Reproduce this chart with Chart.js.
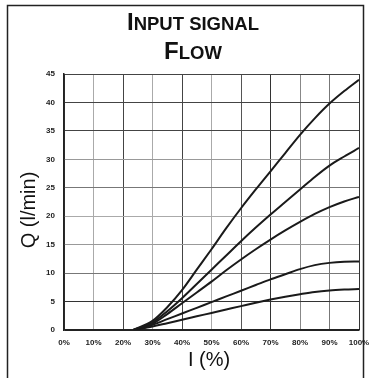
<!DOCTYPE html>
<html>
<head>
<meta charset="utf-8">
<script src="https://cdn.jsdelivr.net/npm/chart.js@4.4.0/dist/chart.umd.min.js"></script>
<style>
html,body{margin:0;padding:0;background:#fff;}
#wrap{position:relative;width:371px;height:378px;}
</style>
</head>
<body>
<div id="wrap"><canvas id="c" width="371" height="378"></canvas></div>
<script>
// ---- data ----
const titleLines = ["Input signal", "Flow"];
const xAxisTitle = "I (%)";
const yAxisTitle = "Q (l/min)";
const xTickLabels = ["0%","10%","20%","30%","40%","50%","60%","70%","80%","90%","100%"];
const yTickLabels = ["0","5","10","15","20","25","30","35","40","45"];
const currentPct = [23.5,30,35,40,45,50,55,60,65,70,75,80,85,90,95,100];
const flowA = [0,1.6,4.0,7.0,10.6,14.2,17.9,21.4,24.7,27.9,31.1,34.3,37.2,39.8,42.0,44];
const flowB = [0,1.3,3.3,5.6,8.1,10.6,13.1,15.6,18.0,20.3,22.5,24.7,26.9,28.9,30.5,32];
const flowC = [0,1.1,2.8,4.7,6.6,8.5,10.5,12.4,14.2,15.9,17.5,19.0,20.4,21.6,22.6,23.4];
const flowD = [0,0.9,1.9,2.9,3.9,4.9,5.9,6.9,7.9,8.9,9.8,10.7,11.4,11.8,12.0,12.05];
const flowE = [0,0.6,1.2,1.8,2.4,3.0,3.6,4.2,4.8,5.35,5.85,6.3,6.7,6.95,7.1,7.2];
const series = [flowA, flowB, flowC, flowD, flowE];

// ---- styles ----
const FONT = "'Liberation Sans', Arial, Helvetica, sans-serif";
const vGridColors = ["#333","#aaa","#444","#aaa","#444","#aaa","#555","#333","#888","#777","#333"];
const hGridColors = ["#222","#333","#777","#999","#aaa","#777","#999","#444","#444","#444"];

const toPoints = ys => ys.map((y,i)=>({x:currentPct[i], y:y}));

function drawSmallCaps(ctx, text, cx, baseline, big, small){
  const parts = [];
  const words = text.split(" ");
  words.forEach((w,wi)=>{
    if (wi>0) parts.push({t:" ", s:small});
    parts.push({t:w[0].toUpperCase(), s: wi===0 ? big : small});
    if (w.length>1) parts.push({t:w.slice(1).toUpperCase(), s:small});
  });
  let total = 0;
  parts.forEach(p=>{ ctx.font = "bold "+p.s+"px "+FONT; p.w = ctx.measureText(p.t).width; total += p.w; });
  let x = cx - total/2;
  ctx.textAlign = "left"; ctx.textBaseline = "alphabetic";
  parts.forEach(p=>{ ctx.font = "bold "+p.s+"px "+FONT; ctx.fillText(p.t, x, baseline); x += p.w; });
}

const decor = {
  id: "decor",
  afterDraw(chart){
    const ctx = chart.ctx;
    ctx.save();
    ctx.strokeStyle = "#222"; ctx.lineWidth = 1.5;
    ctx.beginPath();
    ctx.moveTo(7.5, 390); ctx.lineTo(7.5, 5.5); ctx.lineTo(363.5, 5.5); ctx.lineTo(363.5, 390);
    ctx.stroke();
    ctx.fillStyle = "#111";
    drawSmallCaps(ctx, titleLines[0], 193, 30, 24, 18.5);
    drawSmallCaps(ctx, titleLines[1], 193, 59, 24, 18.5);
    ctx.font = "20px " + FONT;
    ctx.textAlign = "center"; ctx.textBaseline = "middle";
    ctx.fillText(xAxisTitle, 209, 360);
    ctx.save();
    ctx.translate(29, 210);
    ctx.rotate(-Math.PI/2);
    ctx.fillText(yAxisTitle, 0, 0);
    ctx.restore();
    ctx.restore();
  }
};

new Chart(document.getElementById("c"), {
  type: "line",
  data: {
    datasets: series.map((s,i)=>({
      label: "curve " + (i+1),
      data: toPoints(s),
      borderColor: "#1a1a1a",
      borderWidth: 2,
      pointRadius: 0,
      fill: false,
      cubicInterpolationMode: "monotone"
    }))
  },
  options: {
    responsive: false,
    animation: false,
    devicePixelRatio: 1,
    layout: { padding: { left: 0, right: 12, top: 74, bottom: 0 } },
    plugins: { legend: { display: false }, tooltip: { enabled: false }, title: { display: false } },
    scales: {
      x: {
        type: "linear", min: 0, max: 100,
        afterFit(scale){ scale.height = 48; scale.paddingLeft = 0; scale.paddingRight = 0; },
        afterBuildTicks(scale){ scale.ticks = xTickLabels.map((_,i)=>({value:i*10})); },
        ticks: {
          autoSkip: false, maxRotation: 0, padding: 8,
          color: "#222",
          font: { family: FONT, size: 8, weight: "bold" },
          callback: (v, i) => xTickLabels[i]
        },
        grid: { color: ctx => vGridColors[ctx.index] || "#888", lineWidth: 1, drawTicks: false },
        border: { display: true, color: "#222", width: 1.5 }
      },
      y: {
        type: "linear", min: 0, max: 45,
        afterFit(scale){ scale.width = 64; scale.paddingTop = 0; scale.paddingBottom = 0; },
        afterBuildTicks(scale){ scale.ticks = yTickLabels.map((_,i)=>({value:i*5})); },
        ticks: {
          autoSkip: false, padding: 9,
          color: "#222",
          font: { family: FONT, size: 8, weight: "bold" },
          callback: (v, i) => yTickLabels[i]
        },
        grid: { color: ctx => hGridColors[ctx.index] || "#888", lineWidth: 1, drawTicks: false },
        border: { display: true, color: "#222", width: 1.5 }
      }
    }
  },
  plugins: [decor]
});
</script>
</body>
</html>
